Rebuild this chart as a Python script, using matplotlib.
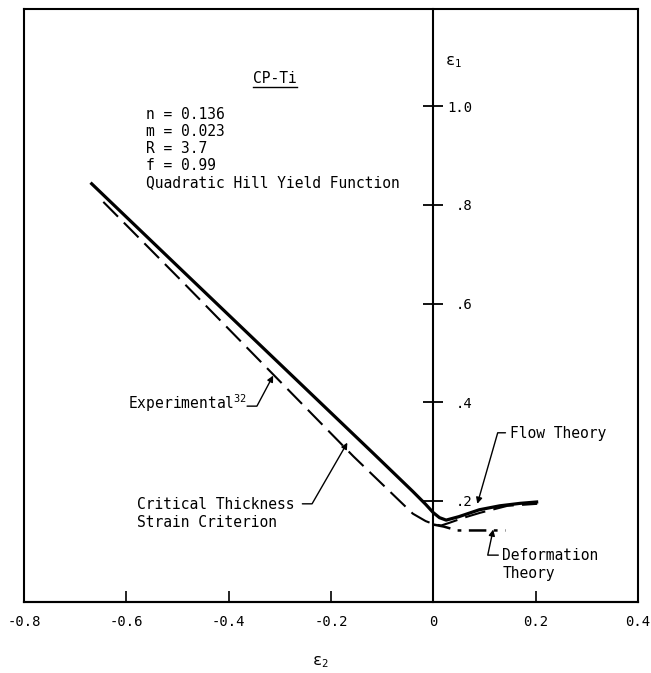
import matplotlib
matplotlib.use("Agg")
import matplotlib.pyplot as plt
from matplotlib.lines import Line2D
from matplotlib.transforms import IdentityTransform

plt.rcParams['font.family'] = ['DejaVu Sans Mono']
plt.rcParams['mathtext.fontset'] = 'custom'
plt.rcParams['mathtext.rm'] = 'DejaVu Sans Mono'
plt.rcParams['mathtext.it'] = 'DejaVu Sans Mono'

# ---- data ----
exp_x = [-0.670, -0.494, -0.117, -0.040, -0.015, 0.000, 0.012, 0.025, 0.050, 0.090, 0.130, 0.170, 0.205]
exp_y = [0.845, 0.670, 0.296, 0.219, 0.193, 0.176, 0.166, 0.161, 0.168, 0.182, 0.190, 0.195, 0.198]

crit_x = [-0.645, -0.494, -0.156, -0.040, -0.015, 0.000, 0.015]
crit_y = [0.806, 0.648, 0.290, 0.174, 0.159, 0.153, 0.150]

flow_x = [0.030, 0.060, 0.092, 0.145, 0.203]
flow_y = [0.155, 0.166, 0.176, 0.190, 0.194]

deform_x = [0.000, 0.020, 0.047, 0.092, 0.141]
deform_y = [0.152, 0.148, 0.140, 0.140, 0.140]

xticks = [-0.8, -0.6, -0.4, -0.2, 0.0, 0.2, 0.4]
xtick_labels = ["-0.8", "-0.6", "-0.4", "-0.2", "0", "0.2", "0.4"]
yticks = [0.2, 0.4, 0.6, 0.8, 1.0]
ytick_labels = [".2", ".4", ".6", ".8", "1.0"]

params_text = "n = 0.136\nm = 0.023\nR = 3.7\nf = 0.99\nQuadratic Hill Yield Function"

# ---- figure ----
W, H = 651, 673
fig = plt.figure(figsize=(W / 100, H / 100), dpi=100)
pos = [24 / W, 1 - 602 / H, 614 / W, 593 / H]
ax = fig.add_axes(pos)
ax.set_xlim(-0.8, 0.4)
ax.set_ylim(-0.005, 1.197)

ax.spines['left'].set_visible(False)
ax.spines['top'].set_visible(False)
ax.spines['right'].set_position(('data', 0))
ax.spines['right'].set_linewidth(1.5)
ax.spines['bottom'].set_linewidth(1.5)

ax.yaxis.tick_right()
ax.set_yticks(yticks)
ax.set_yticklabels(ytick_labels)
ax.tick_params(axis='y', direction='inout', length=14, width=1.3, pad=21.5, labelsize=10)
for lb in ax.get_yticklabels():
    lb.set_horizontalalignment('right')

ax.set_xticks(xticks)
ax.set_xticklabels(xtick_labels)
ax.tick_params(axis='x', direction='in', length=8, width=1.2, pad=9, labelsize=10)

# frame box
frame = fig.add_axes(pos, facecolor='none')
frame.set_xticks([])
frame.set_yticks([])
for s in frame.spines.values():
    s.set_linewidth(1.5)

# curves
ax.plot(exp_x, exp_y, color='black', lw=2.3, solid_capstyle='butt', solid_joinstyle='round')
ax.plot(crit_x + flow_x, crit_y + flow_y, color='black', lw=1.5, linestyle=(0, (10, 4)))
ax.plot(deform_x, deform_y, color='black', lw=1.8, linestyle=(0, (7, 3, 1.5, 3)))

# texts
fs = 10.5
cp = ax.text(-0.309, 1.056, "CP-Ti", ha='center', va='center', fontsize=fs)
ax.text(-0.561, 0.998, params_text, ha='left', va='top', fontsize=fs, linespacing=1.17)
ax.text(0.040, 1.09, r'$\varepsilon_1$', ha='center', va='center', fontsize=11)
ax.text(0.482, -0.101, r'$\varepsilon_2$', transform=ax.transAxes, ha='center', va='center', fontsize=11)

ax.text(-0.596, 0.398, r'Experimental$^{32}$', ha='left', va='center', fontsize=fs)
ax.text(-0.580, 0.174, "Critical Thickness\nStrain Criterion", ha='left', va='center', fontsize=fs, linespacing=1.25)
ax.text(0.150, 0.336, "Flow Theory", ha='left', va='center', fontsize=fs)
ax.text(0.135, 0.072, "Deformation\nTheory", ha='left', va='center', fontsize=fs, linespacing=1.25)

ap = dict(arrowstyle='-|>', color='black', lw=1.0, mutation_scale=9, shrinkA=0, shrinkB=0)
ax.annotate('', xy=(-0.313, 0.454), xytext=(-0.364, 0.392),
            arrowprops=dict(ap, connectionstyle='angle,angleA=0,angleB=62,rad=0'))
ax.annotate('', xy=(-0.168, 0.318), xytext=(-0.256, 0.194),
            arrowprops=dict(ap, connectionstyle='angle,angleA=0,angleB=60,rad=0'))
ax.annotate('', xy=(0.086, 0.194), xytext=(0.141, 0.338),
            arrowprops=dict(ap, connectionstyle='angle,angleA=0,angleB=74,rad=0'))
ax.annotate('', xy=(0.117, 0.142), xytext=(0.127, 0.090),
            arrowprops=dict(ap, connectionstyle='angle,angleA=0,angleB=78,rad=0'))

# underline for CP-Ti
fig.canvas.draw()
bb = cp.get_window_extent()
fig.add_artist(Line2D([bb.x0, bb.x1], [bb.y0 - 1, bb.y0 - 1], transform=IdentityTransform(),
                      color='black', lw=1.0))

fig.savefig("out.png", dpi=100)
